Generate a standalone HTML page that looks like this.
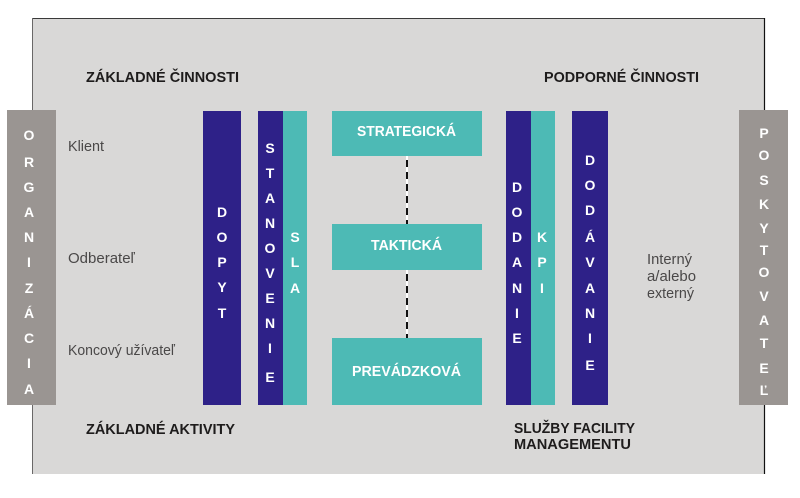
<!DOCTYPE html>
<html><head><meta charset="utf-8"><style>
html,body{margin:0;padding:0;background:#fff;}
svg{display:block;}
.b{font-family:"Liberation Sans",sans-serif;font-weight:bold;}
.l{font-family:"Liberation Sans",sans-serif;fill:#4a4848;}
.v{font-family:"Liberation Sans",sans-serif;font-weight:bold;fill:#fff;font-size:14px;}
</style></head><body>
<svg width="800" height="498" viewBox="0 0 800 498" xmlns="http://www.w3.org/2000/svg">
<rect x="0" y="0" width="800" height="498" fill="#ffffff"/>
<rect x="32" y="18" width="732" height="456" fill="#d9d8d7"/>
<line x1="32" y1="18.5" x2="764" y2="18.5" stroke="#3a3a3a" stroke-width="1"/>
<line x1="32.5" y1="18" x2="32.5" y2="474" stroke="#6a6868" stroke-width="1"/>
<line x1="764.5" y1="18" x2="764.5" y2="474" stroke="#111" stroke-width="1.2"/>

<!-- side gray boxes -->
<rect x="7" y="110" width="49" height="295" fill="#9a9592"/>
<rect x="739" y="110" width="49" height="295" fill="#9a9592"/>

<!-- left bars -->
<rect x="203" y="111" width="38" height="294" fill="#2e2188"/>
<rect x="258" y="111" width="25" height="294" fill="#2e2188"/>
<rect x="283" y="111" width="24" height="294" fill="#4dbab5"/>

<!-- center boxes -->
<rect x="332" y="111" width="150" height="45" fill="#4dbab5"/>
<rect x="332" y="224" width="150" height="46" fill="#4dbab5"/>
<rect x="332" y="338" width="150" height="67" fill="#4dbab5"/>
<line x1="407" y1="156" x2="407" y2="224" stroke="#ffffff" stroke-width="2"/>
<line x1="407" y1="270" x2="407" y2="338" stroke="#ffffff" stroke-width="2"/>
<line x1="407" y1="156" x2="407" y2="224" stroke="#111" stroke-width="2" stroke-dasharray="7 5" stroke-dashoffset="-4"/>
<line x1="407" y1="270" x2="407" y2="338" stroke="#111" stroke-width="2" stroke-dasharray="7 5" stroke-dashoffset="-4"/>

<!-- right bars -->
<rect x="506" y="111" width="25" height="294" fill="#2e2188"/>
<rect x="531" y="111" width="24" height="294" fill="#4dbab5"/>
<rect x="572" y="111" width="36" height="294" fill="#2e2188"/>

<!-- headings -->
<text class="b" x="86" y="82" font-size="15" fill="#1e1c1c" textLength="153" lengthAdjust="spacingAndGlyphs">ZÁKLADNÉ ČINNOSTI</text>
<text class="b" x="544" y="82" font-size="15" fill="#1e1c1c" textLength="155" lengthAdjust="spacingAndGlyphs">PODPORNÉ ČINNOSTI</text>
<text class="b" x="86" y="434" font-size="15" fill="#1e1c1c" textLength="149" lengthAdjust="spacingAndGlyphs">ZÁKLADNÉ AKTIVITY</text>
<text class="b" x="514" y="433" font-size="15" fill="#1e1c1c" textLength="121" lengthAdjust="spacingAndGlyphs">SLUŽBY FACILITY</text>
<text class="b" x="514" y="449" font-size="15" fill="#1e1c1c" textLength="117" lengthAdjust="spacingAndGlyphs">MANAGEMENTU</text>

<!-- light labels -->
<text class="l" x="68" y="151" font-size="14.5" textLength="36" lengthAdjust="spacingAndGlyphs">Klient</text>
<text class="l" x="68" y="263" font-size="15">Odberateľ</text>
<text class="l" x="68" y="355" font-size="14.5" textLength="107" lengthAdjust="spacingAndGlyphs">Koncový užívateľ</text>
<text class="l" x="647" y="264" font-size="14.5" textLength="45" lengthAdjust="spacingAndGlyphs">Interný</text>
<text class="l" x="647" y="281" font-size="14.5" textLength="49" lengthAdjust="spacingAndGlyphs">a/alebo</text>
<text class="l" x="647" y="298" font-size="14.5" textLength="47" lengthAdjust="spacingAndGlyphs">externý</text>

<!-- box labels -->
<text class="b" x="357" y="136" font-size="15" fill="#fff" textLength="99" lengthAdjust="spacingAndGlyphs">STRATEGICKÁ</text>
<text class="b" x="371" y="250" font-size="15" fill="#fff" textLength="71" lengthAdjust="spacingAndGlyphs">TAKTICKÁ</text>
<text class="b" x="352" y="376" font-size="15" fill="#fff" textLength="109" lengthAdjust="spacingAndGlyphs">PREVÁDZKOVÁ</text>

<!-- vertical letters -->
<g class="v" text-anchor="middle">
<!-- ORGANIZÁCIA -->
<text x="29" y="140">O</text><text x="29" y="167">R</text><text x="29" y="192">G</text><text x="29" y="217">A</text><text x="29" y="242">N</text><text x="29" y="267">I</text><text x="29" y="293">Z</text><text x="29" y="318">Á</text><text x="29" y="343">C</text><text x="29" y="368">I</text><text x="29" y="394">A</text>
<!-- DOPYT -->
<text x="222" y="217">D</text><text x="222" y="242">O</text><text x="222" y="267">P</text><text x="222" y="292">Y</text><text x="222" y="318">T</text>
<!-- STANOVENIE -->
<text x="270" y="153">S</text><text x="270" y="178">T</text><text x="270" y="203">A</text><text x="270" y="228">N</text><text x="270" y="253">O</text><text x="270" y="278">V</text><text x="270" y="303">E</text><text x="270" y="328">N</text><text x="270" y="353">I</text><text x="270" y="382">E</text>
<!-- SLA -->
<text x="295" y="242">S</text><text x="295" y="267">L</text><text x="295" y="293">A</text>
<!-- DODANIE -->
<text x="517" y="192">D</text><text x="517" y="217">O</text><text x="517" y="242">D</text><text x="517" y="267">A</text><text x="517" y="293">N</text><text x="517" y="318">I</text><text x="517" y="343">E</text>
<!-- KPI -->
<text x="542" y="242">K</text><text x="542" y="267">P</text><text x="542" y="293">I</text>
<!-- DODÁVANIE -->
<text x="590" y="165">D</text><text x="590" y="190">O</text><text x="590" y="215">D</text><text x="590" y="242">Á</text><text x="590" y="267">V</text><text x="590" y="293">A</text><text x="590" y="318">N</text><text x="590" y="343">I</text><text x="590" y="370">E</text>
<!-- POSKYTOVATEĽ -->
<text x="764" y="138">P</text><text x="764" y="160">O</text><text x="764" y="185">S</text><text x="764" y="209">K</text><text x="764" y="233">Y</text><text x="764" y="255">T</text><text x="764" y="277">O</text><text x="764" y="301">V</text><text x="764" y="325">A</text><text x="764" y="348">T</text><text x="764" y="373">E</text><text x="764" y="395">Ľ</text>
</g>
</svg>
</body></html>
